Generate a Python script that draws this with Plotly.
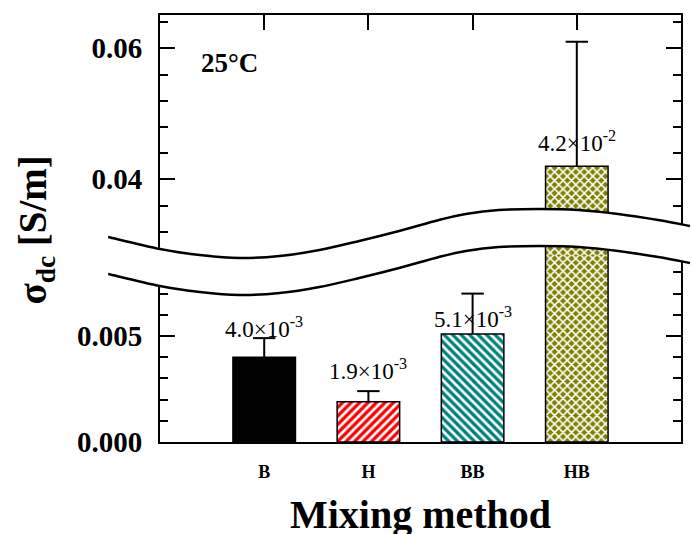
import plotly.graph_objects as go

# ---------------- data ----------------
categories = ["B", "H", "BB", "HB"]
sigma_dc = [0.0040, 0.0019, 0.0051, 0.042]
sigma_err = [0.0009, 0.0005, 0.0019, 0.019]
value_labels = ["4.0×10<sup>-3</sup>", "1.9×10<sup>-3</sup>",
                "5.1×10<sup>-3</sup>", "4.2×10<sup>-2</sup>"]
temperature_label = "25°C"

# ---------------- styles ----------------
bar_colors = ["#000000", "#ff0000", "#008080", "#808000"]
pattern_shapes = ["", "/", "\\", "x"]
label_shift_px = [13, 16, 0, 8]

W, H = 692, 534
ML, MR, MT, MB = 160, 9, 15, 92
PW, PH = W - ML - MR, H - MT - MB


def px_to_paper(px, py):
    return (px - ML) / PW, (H - MB - py) / PH


low_top_py, up_bot_py = 250, 255
low_scale = 21.2 / 0.001
up_scale = 6.55 / 0.001
low_range = [0, (H - MB - low_top_py) / low_scale]
up_range = [0.04 - (up_bot_py - 179.3) / up_scale, 0.06 + (48.3 - MT) / up_scale]
low_dom = [0, px_to_paper(0, low_top_py)[1]]
up_dom = [px_to_paper(0, up_bot_py)[1], 1]

ff = "Liberation Serif"

# error-bar stems and caps built from the data arrays
stem_x, stem_y = [], []
for c, v, e in zip(categories, sigma_dc, sigma_err):
    stem_x += [c, c, None]
    stem_y += [v, v + e, None]
cap_y = [v + e for v, e in zip(sigma_dc, sigma_err)]

fig = go.Figure()
for xa, ya in (("x", "y"), ("x2", "y2")):
    fig.add_trace(go.Bar(
        x=categories, y=sigma_dc, xaxis=xa, yaxis=ya, width=0.6,
        marker=dict(color=bar_colors, line=dict(color="black", width=1.5),
                    pattern=dict(shape=pattern_shapes, fillmode="overlay",
                                 fgcolor=["black"] * len(categories), fgopacity=1,
                                 size=6, solidity=0.45))))
    fig.add_trace(go.Scatter(x=stem_x, y=stem_y, xaxis=xa, yaxis=ya, mode="lines",
                             line=dict(color="black", width=2), hoverinfo="skip"))
    fig.add_trace(go.Scatter(x=categories, y=cap_y, xaxis=xa, yaxis=ya, mode="markers",
                             marker=dict(symbol="line-ew", size=16,
                                         line=dict(color="black", width=2)),
                             hoverinfo="skip"))

fig.update_layout(
    width=W, height=H, margin=dict(l=ML, r=MR, t=MT, b=MB),
    plot_bgcolor="white", paper_bgcolor="white", font=dict(family=ff, color="black"),
    showlegend=False,
    xaxis=dict(anchor="y", showline=True, linecolor="black", linewidth=2,
               ticks="outside", ticklen=12, tickcolor="rgba(0,0,0,0)",
               range=[-1, 4], type="category", showgrid=False, zeroline=False,
               tickfont=dict(size=18, family=ff, weight="bold")),
    xaxis2=dict(anchor="y2", side="top", showline=True, linecolor="black", linewidth=2,
                ticks="inside", ticklen=15, tickwidth=2, tickcolor="black",
                showgrid=False, zeroline=False,
                range=[-1, 4], type="category", showticklabels=False),
    yaxis=dict(anchor="x", domain=low_dom, showline=True, linecolor="black", linewidth=2,
               ticks="inside", ticklen=15, tickwidth=2, mirror="ticks", tickcolor="black",
               range=low_range, dtick=0.005, tick0=0, tickformat=".3f",
               showgrid=False, zeroline=False,
               minor=dict(dtick=0.001, ticks="inside", ticklen=8, tickwidth=2, tickcolor="black"),
               tickfont=dict(size=29, family=ff, weight="bold"), ticklabelstandoff=10),
    yaxis2=dict(anchor="x2", domain=up_dom, showline=True, linecolor="black", linewidth=2,
                ticks="inside", ticklen=15, tickwidth=2, mirror="ticks", tickcolor="black",
                range=up_range, dtick=0.02, tick0=0, tickformat=".2f",
                showgrid=False, zeroline=False,
                minor=dict(dtick=0.004, ticks="inside", ticklen=8, tickwidth=2, tickcolor="black"),
                tickfont=dict(size=29, family=ff, weight="bold"), ticklabelstandoff=10),
)

annotations = []
for i, cat in enumerate(categories):
    ya = "y2" if sigma_dc[i] > low_range[1] else "y"
    annotations.append(dict(x=cat, y=sigma_dc[i], xref="x" if ya == "y" else "x2",
                            yref=ya, text=value_labels[i], showarrow=False,
                            xanchor="center", yanchor="bottom", yshift=label_shift_px[i],
                            font=dict(size=23, family=ff)))
tx, ty = px_to_paper(230, 63)
annotations.append(dict(x=tx, y=ty, xref="paper", yref="paper", text=temperature_label,
                        showarrow=False, xanchor="center", yanchor="middle",
                        font=dict(size=27, family=ff, weight="bold")))
annotations.append(dict(x=0.5, y=px_to_paper(0, 514)[1], xref="paper", yref="paper",
                        text="Mixing method", showarrow=False, xanchor="center",
                        yanchor="middle", font=dict(size=40, family=ff, weight="bold")))
sx, sy = px_to_paper(35, 230)
annotations.append(dict(x=sx, y=sy, xref="paper", yref="paper", textangle=-90,
                        text="σ<sub>dc</sub> [S/m]",
                        showarrow=False, xanchor="center", yanchor="middle",
                        font=dict(size=39, family=ff, weight="bold")))
fig.update_layout(annotations=annotations)

# ---------------- axis-break band (decoration) ----------------
upper_curve_px = [(108, 237), (160, 249), (200, 255), (240, 258), (280, 256), (320, 250),
                  (360, 241), (400, 231), (440, 220), (467, 214), (500, 210), (540, 209),
                  (580, 210), (620, 214), (660, 220), (692, 226)]
band_px = 37


def catmull(points):
    pts = [px_to_paper(*p) for p in points]
    segs = []
    for i in range(len(pts) - 1):
        p0 = pts[i - 1] if i > 0 else pts[i]
        p1, p2 = pts[i], pts[i + 1]
        p3 = pts[i + 2] if i + 2 < len(pts) else pts[i + 1]
        c1 = (p1[0] + (p2[0] - p0[0]) / 6, p1[1] + (p2[1] - p0[1]) / 6)
        c2 = (p2[0] - (p3[0] - p1[0]) / 6, p2[1] - (p3[1] - p1[1]) / 6)
        segs.append(f"C {c1[0]:.5f},{c1[1]:.5f} {c2[0]:.5f},{c2[1]:.5f} {p2[0]:.5f},{p2[1]:.5f}")
    return pts, segs


lower_curve_px = [(x, y + band_px) for x, y in upper_curve_px]
up_pts, up_segs = catmull(upper_curve_px)
lo_rev_pts, lo_rev_segs = catmull(lower_curve_px[::-1])
lo_pts, lo_segs = catmull(lower_curve_px)

fill_path = (f"M {up_pts[0][0]:.5f},{up_pts[0][1]:.5f} " + " ".join(up_segs) +
             f" L {lo_rev_pts[0][0]:.5f},{lo_rev_pts[0][1]:.5f} " + " ".join(lo_rev_segs) + " Z")
upper_line = f"M {up_pts[0][0]:.5f},{up_pts[0][1]:.5f} " + " ".join(up_segs)
lower_line = f"M {lo_pts[0][0]:.5f},{lo_pts[0][1]:.5f} " + " ".join(lo_segs)

fig.add_shape(type="path", path=fill_path, xref="paper", yref="paper",
              fillcolor="white", line=dict(width=0), layer="above")
for p in (upper_line, lower_line):
    fig.add_shape(type="path", path=p, xref="paper", yref="paper",
                  line=dict(color="black", width=2.5), layer="above")

fig.write_html("out.html")
